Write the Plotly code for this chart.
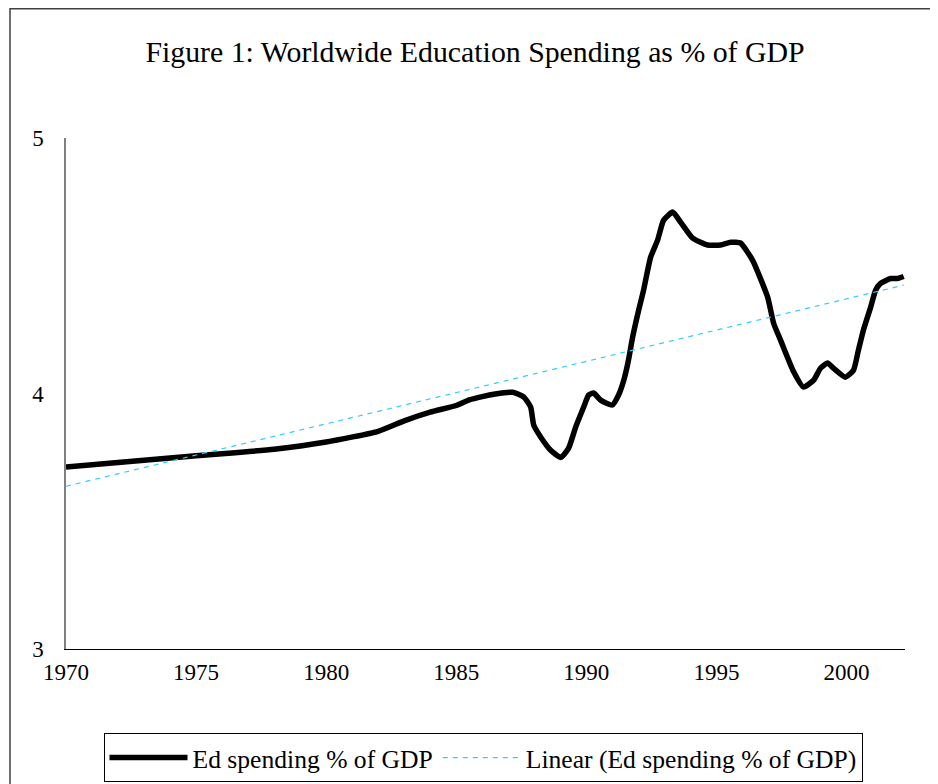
import plotly.graph_objects as go

# Data
years = [1970, 1972, 1974, 1976, 1978, 1980, 1982, 1983, 1984, 1985, 1985.5, 1986, 1986.5,
         1987.17, 1987.6, 1987.86, 1987.98, 1988.25, 1988.63, 1989.02, 1989.32, 1989.59,
         1989.9, 1990.09, 1990.28, 1990.55, 1991.0, 1991.24, 1991.44, 1991.6, 1991.78,
         1992.01, 1992.2, 1992.47, 1992.74, 1992.97, 1993.32, 1993.63, 1994.09, 1994.66,
         1995.16, 1995.55, 1995.93, 1996.2, 1996.43, 1996.97, 1997.2, 1997.47, 1997.97,
         1998.35, 1998.74, 1999.0, 1999.27, 1999.5, 1999.96, 2000.27, 2000.46, 2000.65,
         2000.93, 2001.12, 2001.31, 2001.7, 2001.96, 2002.2]
ed_spending = [3.712, 3.730, 3.748, 3.764, 3.782, 3.810, 3.852, 3.893, 3.927, 3.953, 3.975,
               3.988, 3.998, 4.005, 3.986, 3.947, 3.876, 3.829, 3.778, 3.750, 3.786, 3.868,
               3.947, 3.994, 4.002, 3.974, 3.955, 3.994, 4.052, 4.120, 4.220,
               4.325, 4.404, 4.533, 4.600, 4.678, 4.710, 4.670, 4.608, 4.581,
               4.581, 4.592, 4.589, 4.553, 4.514, 4.377, 4.275, 4.208, 4.085,
               4.025, 4.052, 4.099, 4.119, 4.099, 4.064, 4.091, 4.170, 4.248,
               4.338, 4.404, 4.431, 4.450, 4.450, 4.458]

trend_years = [1970, 2002.2]
trend_values = [3.637, 4.424]

x_ticks = [1970, 1975, 1980, 1985, 1990, 1995, 2000]
y_ticks = [3, 4, 5]

FONT = "Liberation Serif, Times New Roman, serif"

W, H = 938, 784
OFF = 8  # page offset of the figure in the browser
L, T = 66 - OFF, 138 - OFF
pw, ph = 839, 510.6
R = W - L - pw
B = H - T - ph


def px_x(p):
    return (p - OFF - L) / pw


def px_y(p):
    return (H - B - (p - OFF)) / ph


fig = go.Figure()
fig.add_trace(go.Scatter(
    x=years, y=ed_spending, mode="lines", name="Ed spending % of GDP",
    line=dict(color="black", width=5.5, shape="spline", smoothing=0.5),
))
fig.add_trace(go.Scatter(
    x=trend_years, y=trend_values, mode="lines", name="Linear (Ed spending % of GDP)",
    line=dict(color="#33CCFF", width=1.2, dash="5px,5px"),
))

fig.update_layout(
    width=W, height=H,
    margin=dict(l=L, r=R, t=T, b=B, autoexpand=False),
    paper_bgcolor="white", plot_bgcolor="white",
    font=dict(family=FONT, size=22, color="black"),
    title=dict(text="Figure 1: Worldwide Education Spending as % of GDP",
               font=dict(family=FONT, size=29.8, color="black"),
               x=(475 - OFF) / W, xref="container", xanchor="center",
               y=1 - (52 - OFF) / H, yref="container", yanchor="middle"),
    xaxis=dict(range=[1970, 2002.25], tickvals=x_ticks, showgrid=False, zeroline=False,
               showline=True, linecolor="black", linewidth=1, ticks="",
               ticklabelstandoff=2, tickfont=dict(family=FONT, size=23)),
    yaxis=dict(range=[3, 5], tickvals=y_ticks, showgrid=False, zeroline=False,
               showline=True, linecolor="#808080", linewidth=1.5, ticks="",
               ticklabelstandoff=16, tickfont=dict(family=FONT, size=23)),
    legend=dict(orientation="h", x=px_x(483), xanchor="center", y=px_y(733), yanchor="top",
                bordercolor="black", borderwidth=1, bgcolor="white",
                font=dict(family=FONT, size=25.6), itemwidth=78, tracegroupgap=0),
    showlegend=True,
    shapes=[dict(type="rect", xref="paper", yref="paper",
                 x0=px_x(10), x1=px_x(960), y0=px_y(800), y1=(H - B - 0.75) / ph,
                 line=dict(color="#404040", width=1.5), fillcolor="rgba(0,0,0,0)",
                 layer="below")],
)

fig.write_html("out.html")
